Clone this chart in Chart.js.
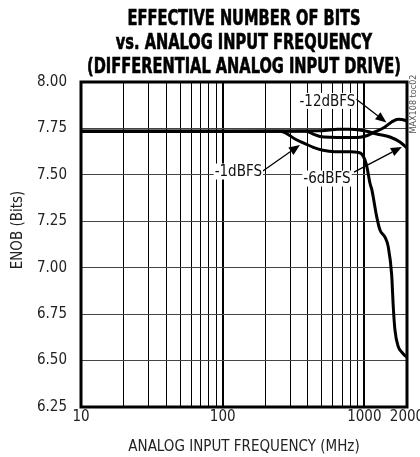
<!DOCTYPE html>
<html><head><meta charset="utf-8">
<script src="https://cdn.jsdelivr.net/npm/chart.js@4/dist/chart.umd.min.js"></script>
<style>html,body{margin:0;padding:0;background:#fff}</style>
</head><body>
<canvas id="c" width="420" height="457"></canvas>
<script>
// ---- text ----
const titleLines = ["EFFECTIVE NUMBER OF BITS", "vs. ANALOG INPUT FREQUENCY", "(DIFFERENTIAL ANALOG INPUT DRIVE)"];
const xTitle = "ANALOG INPUT FREQUENCY (MHz)";
const yTitle = "ENOB (Bits)";
const noteText = "MAX108 toc02";
const seriesNames = ["-1dBFS", "-6dBFS", "-12dBFS"];

// ---- axes ----
const xGridTicks = [10,20,30,40,50,60,70,80,90,100,200,300,400,500,600,700,800,900,1000,2000];
const xLabelTicks = [10,100,1000,2000];
const yMin = 6.25, yMax = 8.00, yStep = 0.25;

// ---- series (frequency MHz, ENOB bits) ----
const freqM1 = [10,100,250,275,324,381,436,510,620,791,901,957,1010,1043,1095,1131,1222,1289,1398,1474,1559,1600,1644,1735,1834,1935,2000];
const enobM1 = [7.735,7.735,7.735,7.728,7.693,7.668,7.648,7.632,7.625,7.625,7.621,7.612,7.58,7.542,7.456,7.418,7.275,7.203,7.165,7.113,6.961,6.79,6.665,6.575,6.546,6.527,6.519];

const freqM6 = [10,100,500,650,800,950,1038,1222,1516,1782,2000];
const enobM6 = [7.735,7.735,7.737,7.745,7.745,7.74,7.735,7.72,7.704,7.677,7.645];

const freqM12 = [10,100,390,440,486,572,750,931,1050,1156,1359,1559,1735,1935,2000];
const enobM12 = [7.735,7.735,7.735,7.718,7.707,7.702,7.701,7.703,7.712,7.727,7.752,7.785,7.80,7.794,7.788];

// ---- callouts (data units) ----
const callouts = [
  { text: "-1dBFS",  label: [129, 7.518], tail: [192, 7.521], head: [351, 7.661] },
  { text: "-6dBFS",  label: [545, 7.480], tail: [845, 7.515], head: [1841, 7.650] },
  { text: "-12dBFS", label: [549, 7.898], tail: [873, 7.908], head: [1432, 7.782] }
];

const FONT = "'DejaVu Sans Condensed', 'Liberation Sans Narrow', sans-serif";

const toXY = (fs, es) => fs.map((f, i) => ({ x: f, y: es[i] }));

const deco = {
  id: 'deco',
  afterDatasetsDraw(chart) {
    const { ctx, scales: { x, y } } = chart;
    ctx.save();
    ctx.fillStyle = '#000'; ctx.strokeStyle = '#000';
    callouts.forEach(c => {
      const tx = x.getPixelForValue(c.tail[0]), ty = y.getPixelForValue(c.tail[1]);
      const hx = x.getPixelForValue(c.head[0]), hy = y.getPixelForValue(c.head[1]);
      const ang = Math.atan2(hy - ty, hx - tx);
      const hl = 11, hw = 4.5;
      const bx = hx - hl * Math.cos(ang), by = hy - hl * Math.sin(ang);
      ctx.lineWidth = 1.3;
      ctx.beginPath(); ctx.moveTo(tx, ty); ctx.lineTo(bx, by); ctx.stroke();
      ctx.beginPath(); ctx.moveTo(hx, hy);
      ctx.lineTo(bx + hw * Math.sin(ang), by - hw * Math.cos(ang));
      ctx.lineTo(bx - hw * Math.sin(ang), by + hw * Math.cos(ang));
      ctx.closePath(); ctx.fill();
      const lx = x.getPixelForValue(c.label[0]), ly = y.getPixelForValue(c.label[1]);
      ctx.font = '15px ' + FONT;
      const w = ctx.measureText(c.text).width;
      ctx.fillStyle = '#fff';
      ctx.fillRect(lx - w / 2 - 1, ly - 8, w + 2, 16);
      ctx.fillStyle = '#111';
      ctx.textAlign = 'center'; ctx.textBaseline = 'middle';
      ctx.fillText(c.text, lx, ly + 1);
      ctx.fillStyle = '#000';
    });
    ctx.restore();
  },
  afterDraw(chart) {
    const { ctx, chartArea: a } = chart;
    ctx.save();
    ctx.strokeStyle = '#000'; ctx.lineWidth = 3;
    ctx.strokeRect(a.left, a.top, a.right - a.left, a.bottom - a.top);
    // title, compressed horizontally to a condensed look
    const cx = (a.left + a.right) / 2;
    ctx.fillStyle = '#000'; ctx.strokeStyle = '#000'; ctx.lineWidth = 0.6;
    ctx.textAlign = 'center'; ctx.textBaseline = 'alphabetic';
    ctx.font = 'bold 21px ' + FONT;
    const sx = 314 / ctx.measureText(titleLines[2]).width;
    titleLines.forEach((t, i) => {
      const yy = 25 + i * 24;
      ctx.save();
      ctx.translate(cx, yy); ctx.scale(sx, 1);
      ctx.fillText(t, 0, 0);
      ctx.strokeText(t, 0, 0);
      ctx.restore();
    });
    // y title
    ctx.save();
    ctx.translate(18, 230); ctx.rotate(-Math.PI / 2);
    ctx.font = '15px ' + FONT; ctx.fillStyle = '#222';
    ctx.textAlign = 'center'; ctx.textBaseline = 'middle';
    ctx.fillText(yTitle, 0, 0);
    ctx.restore();
    // side note
    ctx.save();
    ctx.translate(414, 104); ctx.rotate(-Math.PI / 2);
    ctx.font = '9px ' + FONT; ctx.fillStyle = '#555';
    ctx.textAlign = 'center'; ctx.textBaseline = 'middle';
    ctx.fillText(noteText, 0, 0);
    ctx.restore();
    ctx.restore();
  }
};

const lineStyle = { borderColor: '#000', borderWidth: 3, pointRadius: 0, fill: false, cubicInterpolationMode: 'monotone' };

new Chart(document.getElementById('c'), {
  type: 'line',
  data: {
    datasets: [
      { label: seriesNames[0], data: toXY(freqM1, enobM1), ...lineStyle },
      { label: seriesNames[1], data: toXY(freqM6, enobM6), ...lineStyle },
      { label: seriesNames[2], data: toXY(freqM12, enobM12), ...lineStyle }
    ]
  },
  options: {
    responsive: false,
    animation: false,
    layout: { padding: { top: 82, right: 13, bottom: 0, left: 0 } },
    plugins: { legend: { display: false }, tooltip: { enabled: false }, title: { display: false } },
    scales: {
      x: {
        type: 'logarithmic', min: 10, max: 2000,
        afterBuildTicks: s => { s.ticks = xGridTicks.map(v => ({ value: v })); },
        afterFit: s => { s.height = 50; s.paddingLeft = 0; s.paddingRight = 0; },
        grid: { color: '#000', lineWidth: c => ([100, 1000].includes(c.tick && c.tick.value) ? 2 : 1), drawTicks: false },
        border: { display: false },
        ticks: {
          autoSkip: false, maxRotation: 0, padding: 1, color: '#222',
          font: { family: FONT, size: 15 },
          callback: v => xLabelTicks.includes(v) ? String(v) : ''
        },
        title: { display: true, text: xTitle, color: '#222', font: { family: FONT, size: 15 }, padding: { top: 0, bottom: 1 } }
      },
      y: {
        min: yMin, max: yMax,
        afterFit: s => { s.width = 81; },
        grid: { color: '#444', lineWidth: 1, drawTicks: false },
        border: { display: false },
        ticks: { stepSize: yStep, padding: 14, color: '#222', font: { family: FONT, size: 15 }, callback: v => v.toFixed(2) }
      }
    }
  },
  plugins: [deco]
});
</script>
</body></html>
